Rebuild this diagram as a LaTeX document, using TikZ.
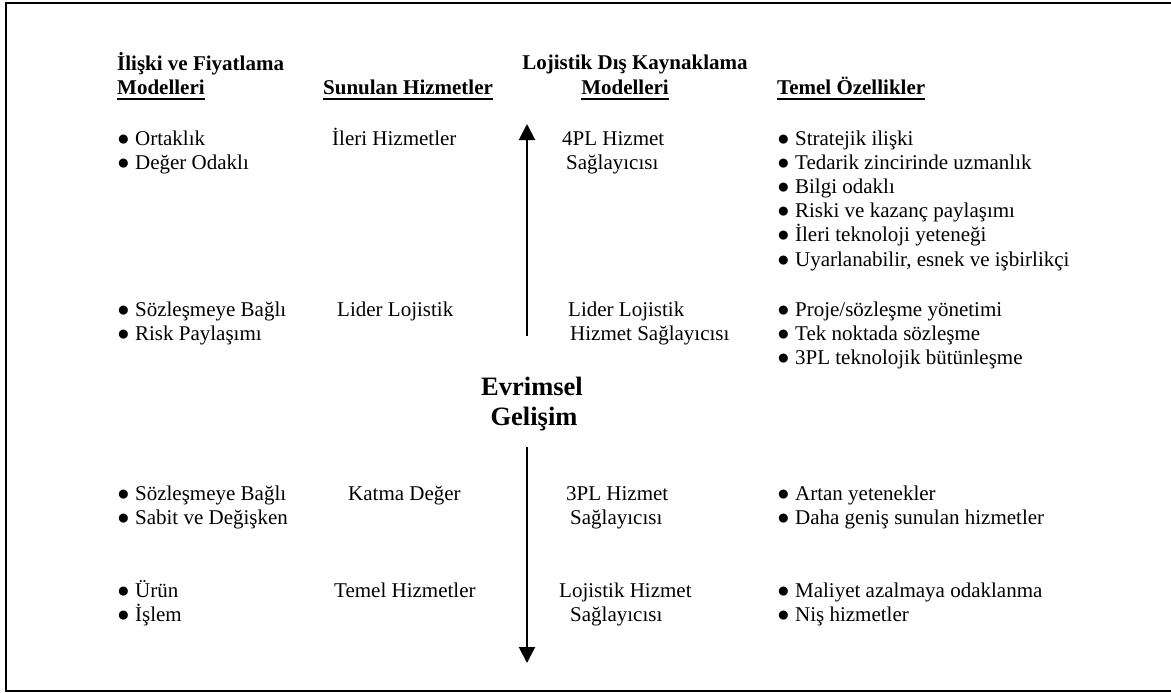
\documentclass[tikz,border=0pt]{standalone}
\usepackage{fontspec}
\setmainfont{Liberation Serif}
\usetikzlibrary{arrows.meta}
\begin{document}
\begin{tikzpicture}[x=1pt,y=-1pt,
  txt/.style={inner sep=0pt, anchor=base west, font=\fontsize{21}{24}\selectfont},
  ctxt/.style={txt, anchor=base},
  hd/.style={txt, font=\fontsize{21}{24}\selectfont\bfseries},
  chd/.style={hd, anchor=base},
  big/.style={inner sep=0pt, anchor=base, font=\fontsize{26.5}{30}\selectfont\bfseries},
  ul/.style={line width=1.5pt},
  evo/.style={line width=2pt, -{Triangle[width=16pt,length=16pt]}},
  frame/.style={line width=2.4pt}]
\useasboundingbox (0,0) rectangle (1171,693);
% frame (right side lies outside the picture)
\draw[frame] (1190,3) -- (6,3) -- (6,691) -- (1190,691);

% headers
\node[hd] (h1a) at (117,71) {İlişki ve Fiyatlama};
\node[hd] (h1b) at (117,95) {Modelleri};
\node[hd] (h2) at (323,95) {Sunulan Hizmetler};
\node[chd] (h3a) at (635,70) {Lojistik Dış Kaynaklama};
\node[chd] (h3b) at (625,95) {Modelleri};
\node[hd] (h4) at (777,95) {Temel Özellikler};
\foreach \n in {h1b,h2,h3b,h4}
  \draw[ul] ([yshift=-4pt]\n.base west) -- ([yshift=-4pt]\n.base east);

% group 1
\node[txt] (a1) at (117,145) {● Ortaklık};
\node[txt] (a2) at (117,169) {● Değer Odaklı};
\node[txt] (b1) at (332,145) {İleri Hizmetler};
\node[txt] (c1) at (562,145) {4PL Hizmet};
\node[txt] (c2) at (566,169) {Sağlayıcısı};
\node[txt] (d1) at (777,145) {● Stratejik ilişki};
\node[txt] (d2) at (777,169.2) {● Tedarik zincirinde uzmanlık};
\node[txt] (d3) at (777,193.4) {● Bilgi odaklı};
\node[txt] (d4) at (777,217.6) {● Riski ve kazanç paylaşımı};
\node[txt] (d5) at (777,241.8) {● İleri teknoloji yeteneği};
\node[txt] (d6) at (777,266) {● Uyarlanabilir, esnek ve işbirlikçi};

% group 2
\node[txt] (e1) at (117,316) {● Sözleşmeye Bağlı};
\node[txt] (e2) at (117,340) {● Risk Paylaşımı};
\node[txt] (f1) at (337,316) {Lider Lojistik};
\node[txt] (g1) at (568,316) {Lider Lojistik};
\node[txt] (g2) at (570,340) {Hizmet Sağlayıcısı};
\node[txt] (k1) at (777,316) {● Proje/sözleşme yönetimi};
\node[txt] (k2) at (777,340) {● Tek noktada sözleşme};
\node[txt] (k3) at (777,364) {● 3PL teknolojik bütünleşme};

% centre label
\node[big] (ev1) at (532,395) {Evrimsel};
\node[big] (ev2) at (534,425) {Gelişim};

% group 3
\node[txt] (m1) at (117,500) {● Sözleşmeye Bağlı};
\node[txt] (m2) at (117,524) {● Sabit ve Değişken};
\node[txt] (n1) at (348,500) {Katma Değer};
\node[txt] (p1) at (566,500) {3PL Hizmet};
\node[txt] (p2) at (570,524) {Sağlayıcısı};
\node[txt] (q1) at (777,500) {● Artan yetenekler};
\node[txt] (q2) at (777,524) {● Daha geniş sunulan hizmetler};

% group 4
\node[txt] (r1) at (117,597) {● Ürün};
\node[txt] (r2) at (117,621) {● İşlem};
\node[txt] (s1) at (334,597) {Temel Hizmetler};
\node[txt] (t1) at (559,597) {Lojistik Hizmet};
\node[txt] (t2) at (570,621) {Sağlayıcısı};
\node[txt] (u1) at (777,597) {● Maliyet azalmaya odaklanma};
\node[txt] (u2) at (777,621) {● Niş hizmetler};

% evolution arrows
\coordinate (upS) at (527,336);
\coordinate (upE) at (527,124);
\coordinate (dnS) at (527,447);
\coordinate (dnE) at (527,663);
\draw[evo] (upS) -- (upE);
\draw[evo] (dnS) -- (dnE);
\end{tikzpicture}
\end{document}
